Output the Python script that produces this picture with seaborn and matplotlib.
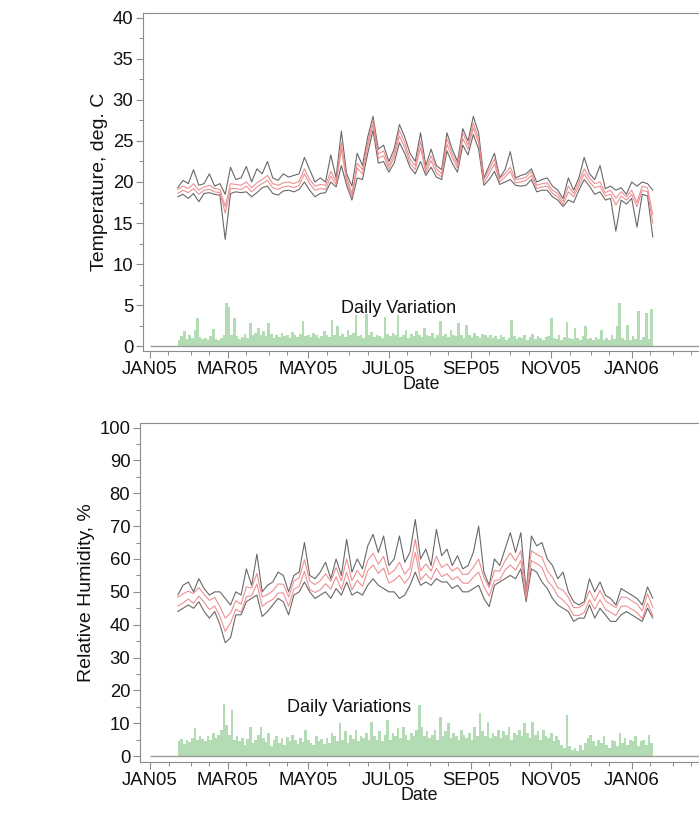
import numpy as np
import pandas as pd
import matplotlib
matplotlib.use("Agg")
import matplotlib.pyplot as plt
import matplotlib.dates as mdates
import matplotlib.ticker as mticker
import seaborn as sns

sns.set_theme(style="white")
plt.rcParams["font.family"] = ["Liberation Sans", "DejaVu Sans"]

# ---------------- data ----------------
line_start = "2005-01-22"   # samples every 4 days
bar_start = "2005-01-22"    # daily-variation bars every 2 days

temp_max = [19.3, 20.2, 19.8, 21.5, 19.6, 19.8, 21.0, 19.5, 19.8, 18.5,
            21.8, 20.3, 20.5, 21.9, 20.0, 21.6, 21.0, 22.5, 20.5, 20.2,
            21.0, 20.6, 20.8, 21.0, 23.0, 21.5, 20.0, 20.5, 20.0, 23.3,
            20.5, 26.2, 21.0, 19.5, 23.5, 22.0, 25.5, 28.0, 24.0, 24.5,
            22.5, 24.0, 27.0, 25.5, 23.5, 22.5, 26.0, 22.0, 24.0, 22.0,
            21.5, 26.0, 24.0, 22.5, 26.5, 25.0, 28.0, 26.0, 20.5, 22.0,
            23.5, 20.5, 21.5, 23.7, 20.5, 20.8, 21.0, 21.6, 20.0, 20.3,
            20.5, 19.5, 19.0, 18.0, 20.5, 19.0, 20.5, 23.0, 21.0, 20.3,
            22.0, 19.2, 19.5, 19.0, 19.3, 18.5, 20.0, 19.5, 20.0, 19.8,
            19.0]
temp_hi = [19.1, 19.5, 19.2, 19.8, 19.0, 19.4, 19.6, 19.2, 19.1, 17.0,
           19.8, 19.7, 19.6, 20.0, 19.3, 19.9, 20.3, 20.8, 19.8, 19.6,
           19.9, 20.0, 19.8, 20.1, 21.6, 20.3, 19.5, 19.7, 19.6, 21.3,
           20.1, 24.8, 20.6, 18.6, 22.3, 21.5, 24.8, 27.6, 23.4, 23.8,
           22.0, 23.5, 26.3, 24.8, 22.8, 22.0, 25.0, 21.5, 23.2, 21.6,
           21.0, 25.3, 23.5, 22.1, 26.0, 24.5, 27.2, 25.3, 20.3, 21.5,
           22.8, 20.4, 21.0, 21.8, 20.3, 20.4, 20.6, 21.3, 19.6, 19.8,
           19.9, 19.0, 18.6, 17.6, 19.5, 18.6, 20.0, 21.6, 20.5, 19.8,
           20.0, 18.7, 19.0, 18.0, 18.8, 18.2, 19.0, 17.5, 19.5, 19.3,
           16.0]
temp_lo = [18.6, 19.0, 18.7, 19.2, 18.5, 19.0, 19.1, 18.8, 18.7, 16.2,
           19.2, 19.2, 19.1, 19.5, 18.8, 19.4, 19.8, 20.2, 19.3, 19.1,
           19.4, 19.5, 19.3, 19.6, 21.0, 19.8, 19.0, 19.2, 19.1, 20.7,
           19.7, 24.0, 20.1, 18.2, 21.7, 21.0, 24.3, 27.0, 22.9, 23.2,
           21.6, 23.0, 25.6, 24.2, 22.3, 21.5, 24.2, 21.1, 22.6, 21.1,
           20.6, 24.6, 23.0, 21.7, 25.3, 24.0, 26.6, 24.8, 19.9, 21.0,
           22.2, 20.0, 20.6, 21.3, 19.9, 20.0, 20.2, 20.8, 19.2, 19.4,
           19.5, 18.6, 18.2, 17.2, 18.8, 18.2, 19.5, 21.0, 20.0, 19.3,
           19.5, 18.3, 18.5, 17.2, 18.3, 17.8, 18.5, 17.0, 19.0, 18.8,
           15.0]
temp_min = [18.2, 18.5, 18.0, 18.6, 17.6, 18.6, 18.7, 18.5, 18.4, 13.0,
            18.6, 18.8, 18.7, 18.8, 18.2, 18.7, 19.3, 19.5, 18.6, 18.4,
            18.9, 19.0, 18.8, 19.1, 20.0, 19.0, 18.2, 18.6, 18.7, 20.0,
            19.4, 22.0, 19.6, 17.8, 20.5, 20.3, 23.5, 26.3, 22.3, 22.5,
            21.2, 22.3, 24.8, 23.5, 21.8, 21.0, 22.5, 20.8, 21.8, 20.6,
            20.3, 23.8, 22.3, 21.2, 24.5, 23.3, 25.8, 24.0, 19.6, 20.3,
            21.3, 19.7, 20.0, 20.3, 19.6, 19.5, 19.6, 20.3, 18.8, 19.0,
            19.0, 18.2, 17.8, 17.0, 17.8, 17.5, 19.0, 20.3, 19.5, 18.5,
            18.8, 17.8, 18.0, 14.0, 17.8, 17.3, 18.0, 14.5, 18.5, 18.3,
            13.3]
temp_var = [0.8, 1.2, 1.8, 0.9, 1.3, 1.0, 1.9, 3.4, 1.1, 0.9,
            1.0, 0.8, 1.2, 2.1, 0.9, 0.7, 1.0, 1.4, 5.3, 4.8,
            1.3, 3.4, 1.2, 0.9, 1.1, 1.5, 1.0, 2.8, 1.3, 1.6,
            2.2, 1.4, 1.8, 1.2, 2.8, 1.5, 1.0, 1.3, 1.1, 1.6,
            1.2, 1.4, 1.0, 1.7, 1.3, 1.1, 1.5, 3.0, 1.2, 1.4,
            1.1, 1.6, 1.3, 1.0, 1.2, 1.8, 1.4, 1.1, 3.2, 1.3,
            2.5, 1.2, 1.5, 1.1, 1.9, 1.3, 1.6, 3.8, 1.2, 1.4,
            1.0, 3.9, 1.3, 1.7, 1.1, 1.4, 1.2, 1.0, 3.6, 1.5,
            1.2, 1.6, 1.3, 3.8, 1.1, 1.4, 1.9, 1.0, 1.5, 1.2,
            1.8, 1.3, 1.1, 2.2, 1.4, 1.2, 1.6, 1.0, 1.3, 3.0,
            1.2, 1.5, 1.1, 2.0, 1.4, 1.2, 2.8, 1.3, 1.0, 2.6,
            1.4, 1.1, 1.6, 1.2, 1.0, 1.5, 1.3, 1.1, 1.4, 1.0,
            1.2, 0.9, 1.3, 1.1, 0.8, 1.0, 3.2, 1.2, 0.9, 1.1,
            1.0, 1.3, 0.8, 1.1, 1.5, 0.9, 1.2, 1.0, 0.8, 1.1,
            1.2, 3.4, 1.0, 0.9, 1.3, 0.8, 1.1, 2.9, 1.0, 0.9,
            2.2, 1.0, 0.8, 1.2, 2.5, 0.9, 1.0, 0.7, 1.1, 0.9,
            2.0, 0.8, 1.0, 0.7, 1.3, 0.9, 2.4, 5.2, 1.0, 0.8,
            2.6, 0.7, 1.2, 0.9, 4.3, 0.8, 1.1, 4.0, 0.9, 4.5]

hum_max = [49, 52, 53, 50, 54, 51, 49, 50, 50, 48,
           46, 50, 49, 57, 52, 61.5, 50, 52, 53, 56,
           55, 50, 55, 56, 65, 55, 54, 56, 59, 54,
           60, 55, 66, 56, 60, 57, 64, 67.5, 62, 67,
           58, 60, 67, 59, 62, 72, 60, 63, 58, 69,
           61, 63, 58, 61, 57, 58, 62, 70, 56, 52,
           60, 58, 63, 68, 62, 68, 50, 67, 64, 65,
           60, 58, 54, 56, 50, 47, 46, 47, 54, 50,
           53, 49, 48, 46, 51, 50, 49, 48, 46, 51.5,
           48]
hum_hi = [48.3, 49.4, 50.2, 49.5, 51.3, 49.2, 47.4, 48.3, 45.5, 42.0,
          43.5, 47.3, 46.2, 51.5, 51.2, 55.6, 48.4, 49.2, 50.3, 52.4,
          52.3, 48.4, 53.2, 54.3, 59.8, 53.3, 52.2, 53.4, 55.5, 53.2,
          57.4, 53.3, 60.0, 53.4, 56.5, 54.3, 59.6, 61.8, 58.4, 60.8,
          55.3, 56.5, 59.0, 55.4, 57.3, 66.0, 56.4, 58.5, 56.3, 60.8,
          57.4, 58.5, 56.3, 57.4, 55.3, 55.4, 57.5, 60.0, 54.4, 51.3,
          56.5, 56.3, 59.4, 61.8, 59.4, 62.5, 50.0, 62.5, 61.4, 60.6,
          56.5, 54.4, 51.3, 50.5, 48.3, 45.2, 45.2, 46.3, 50.4, 47.3,
          50.4, 47.3, 46.2, 45.2, 48.4, 48.3, 47.3, 46.3, 44.2, 49.4,
          45.3]
hum_lo = [45.7, 46.6, 47.8, 46.5, 48.7, 46.8, 44.6, 45.7, 42.5, 38.0,
          40.5, 44.7, 43.8, 48.5, 48.8, 52.4, 45.6, 46.8, 47.7, 49.6,
          49.7, 45.6, 50.8, 51.7, 56.2, 50.7, 49.8, 50.6, 52.5, 50.8,
          54.6, 50.7, 56.0, 50.6, 53.5, 51.7, 56.4, 58.2, 55.6, 57.2,
          52.7, 53.5, 55.0, 52.6, 54.7, 62.0, 53.6, 55.5, 53.7, 57.2,
          54.6, 55.5, 53.7, 54.6, 52.7, 52.6, 54.5, 56.0, 51.6, 48.7,
          53.5, 53.7, 56.6, 58.2, 56.6, 59.5, 48.0, 59.5, 58.6, 57.4,
          53.5, 51.6, 48.7, 47.5, 45.7, 42.8, 42.8, 43.7, 47.6, 44.7,
          47.6, 44.7, 43.8, 42.8, 45.6, 45.7, 44.7, 43.7, 41.8, 46.6,
          42.7]
hum_min = [44, 45, 46, 45, 47, 44, 42, 44, 40, 34.5,
           36, 43, 43, 47, 48, 49, 42.5, 44, 46, 48,
           47, 43, 49, 50, 53, 50, 48, 49, 50, 48,
           51, 49, 53, 49, 50, 49, 52, 54, 52, 51,
           50, 50, 48, 49, 52, 56, 52, 53, 52, 54,
           53, 53, 51, 52, 50, 50, 51, 52, 48, 45.5,
           52, 53, 54, 55, 54, 57, 47, 57, 56, 53,
           51, 48, 46, 45, 44, 41, 42, 42, 46, 42,
           45, 43, 41, 41, 43, 44, 43, 42, 41, 45,
           42]
hum_var = [4.5, 5.2, 3.8, 5.0, 4.2, 5.5, 8.5, 4.8, 6.0, 5.2,
           4.5, 6.2, 5.0, 7.0, 5.5, 6.5, 8.0, 16.0, 9.5, 6.5,
           14.0, 5.0, 6.0, 4.5, 5.5, 3.5, 5.2, 9.0, 4.0, 5.0,
           6.5, 9.0, 5.5, 4.2, 7.0, 3.2, 5.0, 6.0, 4.0, 5.5,
           3.5, 5.8, 4.5, 6.5, 5.0, 3.8, 5.5, 4.2, 8.0, 5.0,
           4.0, 3.5, 6.0, 4.5, 5.2, 3.8, 5.5, 4.0, 7.0, 6.2,
           4.5, 10.0, 5.0, 7.5, 4.0, 6.5, 5.2, 8.0, 4.5, 6.0,
           5.5, 7.0, 4.8, 10.5, 6.0, 5.0, 7.5, 4.5, 6.5, 11.0,
           5.0, 7.0, 6.0, 8.5, 5.5, 9.0, 6.5, 5.0, 7.0, 6.0,
           8.0, 15.5, 9.0, 6.0, 7.5, 5.5, 6.5, 8.0, 5.0, 12.0,
           6.0, 7.5, 10.0, 5.5, 7.0, 6.0, 5.0, 8.0, 6.5, 5.5,
           7.0, 5.0, 9.0, 6.0, 13.0, 7.5, 6.0, 10.5, 5.5, 7.0,
           6.0, 8.0, 5.5, 7.5, 6.5, 9.0, 5.0, 7.0, 6.5, 8.0,
           6.0, 10.0, 7.0, 5.5, 10.5, 6.5, 7.5, 5.0, 8.0, 6.0,
           5.5, 7.0, 4.5, 6.0, 5.0, 3.5, 2.5, 12.5, 3.0, 2.0,
           2.5, 1.5, 3.5, 2.0, 4.0, 5.5, 6.5, 4.5, 3.0, 5.0,
           4.0, 6.0, 3.5, 2.5, 5.0, 4.5, 3.0, 7.0, 4.0, 5.5,
           3.5, 5.0, 4.5, 6.0, 3.0, 4.5, 5.0, 3.5, 6.5, 4.0]

line_dates = pd.date_range(line_start, periods=len(temp_max), freq="4D")
bar_dates = pd.date_range(bar_start, periods=len(temp_var), freq="2D")

temp_df = pd.DataFrame({"Date": line_dates, "max": temp_max, "hi": temp_hi,
                        "lo": temp_lo, "min": temp_min})
hum_df = pd.DataFrame({"Date": line_dates, "max": hum_max, "hi": hum_hi,
                       "lo": hum_lo, "min": hum_min})

# ---------------- figure ----------------
W, H = 699, 827
fig = plt.figure(figsize=(W / 100, H / 100), dpi=100)
ax1 = fig.add_axes([143 / W, 1 - 351 / H, 1 - 143 / W, (351 - 13) / H])
ax2 = fig.add_axes([140 / W, 1 - 762 / H, 1 - 140 / W, (762 - 423) / H])

jan05 = pd.Timestamp("2005-01-01")
right = jan05 + pd.Timedelta(days=416)

BLACK = "#585858"
RED = "#ec8486"
GREEN = "#b4dcb4"
SPINE = "#8c8c8c"


def draw(ax, df, var, ylab, ylim, major, minor, label, label_xy, left_days):
    ax.bar(bar_dates, var, width=2.0, align="edge", color=GREEN,
           edgecolor="none", linewidth=0, zorder=2)
    ax.hlines(0, jan05, right, color="#9a9a9a", lw=1.0, zorder=3)
    for col, colr, lw in [("max", BLACK, 0.8), ("min", BLACK, 0.8),
                          ("hi", RED, 0.8), ("lo", RED, 0.8)]:
        sns.lineplot(data=df, x="Date", y=col, ax=ax, color=colr,
                     linewidth=lw, zorder=4, alpha=0.9)
    ax.set_xlim(jan05 - pd.Timedelta(days=left_days), right)
    ax.set_ylim(*ylim)
    ax.yaxis.set_major_locator(mticker.MultipleLocator(major))
    ax.yaxis.set_minor_locator(mticker.MultipleLocator(minor))
    ax.xaxis.set_major_locator(mdates.MonthLocator(bymonth=[1, 3, 5, 7, 9, 11]))
    ax.xaxis.set_minor_locator(mdates.MonthLocator(bymonthday=[1, 15]))
    ax.xaxis.set_major_formatter(mticker.FuncFormatter(
        lambda v, p: mdates.num2date(v).strftime("%b%y").upper()))
    ax.tick_params(axis="both", which="major", length=5, width=0.8,
                   color=SPINE, labelsize=13.3, labelcolor="#111111",
                   direction="out", bottom=True, left=True, pad=2)
    ax.tick_params(axis="both", which="minor", length=3, width=0.7,
                   color=SPINE, direction="out", bottom=True, left=True)
    for s in ["left", "bottom", "top"]:
        ax.spines[s].set_color(SPINE)
        ax.spines[s].set_linewidth(0.8)
        ax.spines[s].set_visible(True)
    ax.spines["right"].set_visible(False)
    ax.set_xlabel("Date", fontsize=12.8, color="#111111", labelpad=-1)
    ax.set_ylabel(ylab, fontsize=14, color="#111111", labelpad=3)
    ax.text(label_xy[0], label_xy[1], label, fontsize=13, ha="center",
            va="center", color="#111111", zorder=5)


draw(ax1, temp_df, temp_var, "Temperature, deg. C", (-0.6, 40.6), 5, 2.5,
     "Daily Variation", (pd.Timestamp("2005-07-08"), 4.6), 5.3)
draw(ax2, hum_df, hum_var, "Relative Humidity, %", (-1.8, 101.4), 10, 5,
     "Daily Variations", (pd.Timestamp("2005-06-01"), 14.9), 7.6)

fig.savefig("out.png", dpi=100)
